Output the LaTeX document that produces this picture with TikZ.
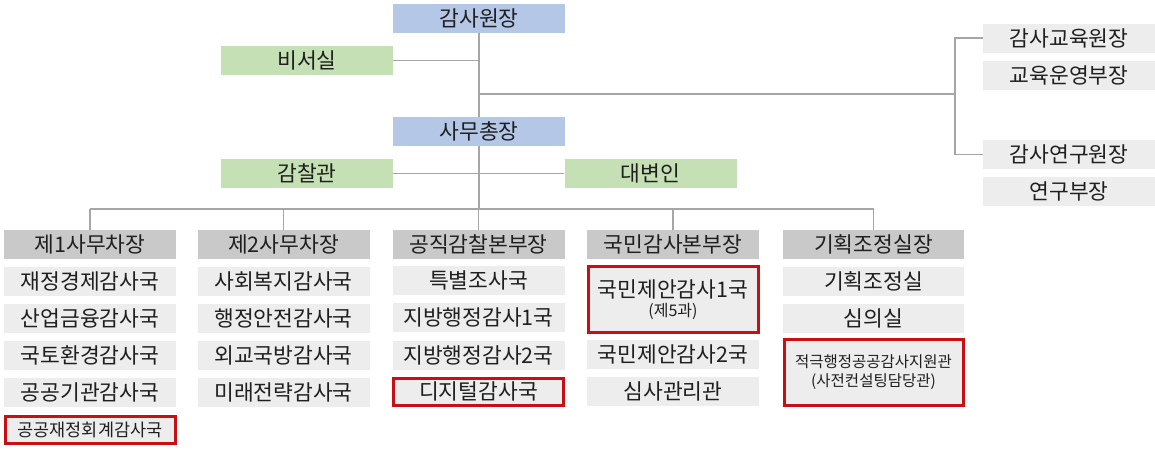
\documentclass[tikz,border=0pt]{standalone}
\usepackage{fontspec}
\setmainfont{Noto Sans CJK KR}
\usepackage{tikz}
\usetikzlibrary{calc}

\definecolor{chiefBlue}{RGB}{180,199,231}
\definecolor{staffGreen}{RGB}{197,224,180}
\definecolor{headGray}{RGB}{201,201,201}
\definecolor{deptGray}{RGB}{237,237,237}
\definecolor{newRed}{RGB}{200,16,20}
\definecolor{lineGray}{RGB}{166,166,166}

\begin{document}
\begin{tikzpicture}[x=1pt, y=-1pt,
		orgbox/.style={minimum width=172pt, minimum height=29pt, inner sep=0pt, text=black!88, font=\fontsize{21.5}{23}\selectfont},
		chiefbox/.style={orgbox, fill=chiefBlue},
		staffbox/.style={orgbox, fill=staffGreen},
		headbox/.style={orgbox, fill=headGray},
		deptbox/.style={orgbox, fill=deptGray},
		newdept/.style={deptbox, draw=newRed, line width=3pt, minimum width=170pt, minimum height=27pt},
		linkline/.style={draw=lineGray, line width=1.5pt}]
			\def\colA{90};
			\def\colB{283.5};
			\def\colC{478.5};
			\def\colD{673};
			\def\colE{873.5};
			\def\rowHead{244.5};

			\newcommand{\drawHead}[3]
			{
				\node [headbox] (#1) at (#2,\rowHead) {#3}
			}

			\newcommand{\drawDept}[4]
			{
				\node [deptbox] (#1) at (#2,#3) {#4}
			}

			\useasboundingbox [fill=white] (0,0) rectangle (1155,450);

			\begin{scope}
				\node [chiefbox] (chair) at (479,18.5) {감사원장};
				\node [chiefbox] (secGen) at (479,131.5) {사무총장};
				\node [staffbox] (secretary) at (307,60.5) {비서실};
				\node [staffbox] (inspector) at (307,173.5) {감찰관};
				\node [staffbox] (spokesman) at (650.5,173.5) {대변인};
			\end{scope}

			\begin{scope}
				\drawDept{eduHead}{1069}{38}{감사교육원장};
				\drawDept{eduOps}{1069}{75.5}{교육운영부장};
				\drawDept{resHead}{1069}{154.5}{감사연구원장};
				\drawDept{resDept}{1069}{191}{연구부장};
			\end{scope}

			\begin{scope}
				\drawHead{deputyOne}{\colA}{제1사무차장};
				\drawDept{econ}{\colA}{281.5}{재정경제감사국};
				\drawDept{industry}{\colA}{318.5}{산업금융감사국};
				\drawDept{land}{\colA}{355.5}{국토환경감사국};
				\drawDept{agency}{\colA}{392.5}{공공기관감사국};
				\node [newdept, font=\fontsize{17.5}{19}\selectfont] (accounting) at (\colA,430) {공공재정회계감사국};
			\end{scope}

			\begin{scope}
				\drawHead{deputyTwo}{\colB}{제2사무차장};
				\drawDept{welfare}{\colB}{281.5}{사회복지감사국};
				\drawDept{safety}{\colB}{318.5}{행정안전감사국};
				\drawDept{defense}{\colB}{355.5}{외교국방감사국};
				\drawDept{future}{\colB}{392.5}{미래전략감사국};
			\end{scope}

			\begin{scope}
				\drawHead{ethicsHead}{\colC}{공직감찰본부장};
				\drawDept{special}{\colC}{280.5}{특별조사국};
				\drawDept{localOne}{\colC}{317.5}{지방행정감사1국};
				\drawDept{localTwo}{\colC}{355}{지방행정감사2국};
				\node [newdept] (digital) at (\colC,391.5) {디지털감사국};
			\end{scope}

			\begin{scope}
				\drawHead{publicHead}{\colD}{국민감사본부장};
				\node [newdept, minimum height=66pt, align=center] (proposalOne) at (\colD,299.5) {국민제안감사1국\\[-4pt]{\fontsize{16}{18}\selectfont (제5과)}};
				\drawDept{proposalTwo}{\colD}{354}{국민제안감사2국};
				\drawDept{review}{\colD}{391.5}{심사관리관};
			\end{scope}

			\begin{scope}[orgbox/.append style={minimum width=181pt}]
				\drawHead{planHead}{\colE}{기획조정실장};
				\drawDept{planning}{\colE}{281.5}{기획조정실};
				\drawDept{council}{\colE}{318}{심의실};
				\node [newdept, minimum width=179pt, minimum height=66pt, align=center, font=\fontsize{15.5}{19}\selectfont] (proactive) at (\colE,372.5) {적극행정공공감사지원관\\(사전컨설팅담당관)};
			\end{scope}

			\begin{scope}[linkline]
				\coordinate (bracket) at (955,94);
				\coordinate (bus) at (479,209);
				\draw (chair) -- (secGen);
				\draw (secretary.east) -- (secretary.east -| chair.south);
				\draw (chair.south |- bracket) -- (bracket);
				\draw (eduHead.west) -| (bracket) |- (resHead.west);
				\draw (inspector.east) -- (spokesman.west);
				\draw (secGen) -- (bus);
				\draw (deputyOne.north |- bus) -- (planHead.north |- bus);
				\draw (deputyOne) -- (deputyOne |- bus);
				\draw (deputyTwo) -- (deputyTwo |- bus);
				\draw (ethicsHead) -- (ethicsHead |- bus);
				\draw (publicHead) -- (publicHead |- bus);
				\draw (planHead) -- (planHead |- bus);
			\end{scope}
		\end{tikzpicture}
\end{document}
